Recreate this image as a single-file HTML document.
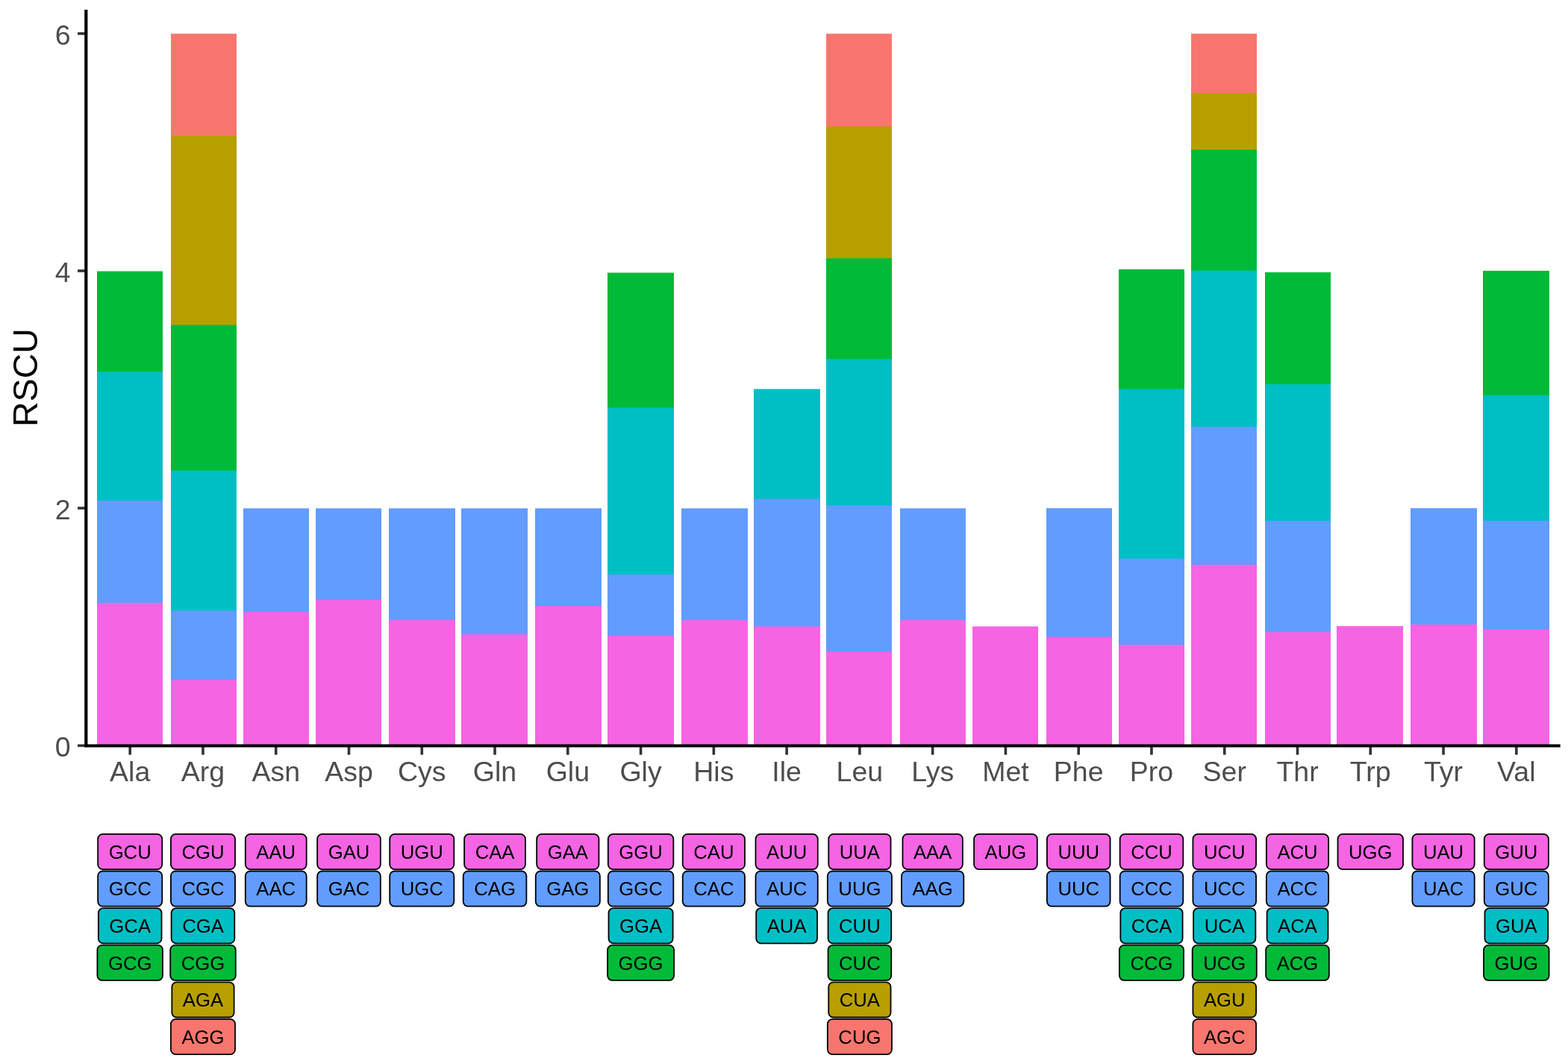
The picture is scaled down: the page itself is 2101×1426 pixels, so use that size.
<!DOCTYPE html>
<html lang="en">
<head>
<meta charset="utf-8">
<title>RSCU</title>
<style>
html,body{margin:0;padding:0;background:#fff;}
body{width:2101px;height:1426px;overflow:hidden;}
svg{display:block;}
text{font-family:"Liberation Sans",Arial,Helvetica,sans-serif;}
.ax{font-size:37.5px;fill:#4D4D4D;}
.ttl{font-size:46.5px;fill:#000;}
.lb{font-size:25.7px;fill:#000;text-anchor:middle;}
.bx{stroke:#000;stroke-width:1.8;}
</style>
</head>
<body>
<svg width="2101" height="1426" viewBox="0 0 2101 1426">
<rect x="0" y="0" width="2101" height="1426" fill="#ffffff"/>
<g>
<rect x="130" y="363.5" width="88" height="635.8" fill="#00BA38"/>
<rect x="130" y="498.1" width="88" height="501.2" fill="#00BFC4"/>
<rect x="130" y="671" width="88" height="328.3" fill="#619CFF"/>
<rect x="130" y="807.9" width="88" height="191.4" fill="#F564E3"/>
<rect x="229" y="45.2" width="88" height="954.1" fill="#F8766D"/>
<rect x="229" y="182" width="88" height="817.3" fill="#B79F00"/>
<rect x="229" y="435.6" width="88" height="563.7" fill="#00BA38"/>
<rect x="229" y="630.6" width="88" height="368.7" fill="#00BFC4"/>
<rect x="229" y="818.2" width="88" height="181.1" fill="#619CFF"/>
<rect x="229" y="911.2" width="88" height="88.1" fill="#F564E3"/>
<rect x="326" y="681.3" width="88" height="318" fill="#619CFF"/>
<rect x="326" y="820.2" width="88" height="179.1" fill="#F564E3"/>
<rect x="423" y="681.3" width="88" height="318" fill="#619CFF"/>
<rect x="423" y="803.9" width="88" height="195.4" fill="#F564E3"/>
<rect x="521" y="681.3" width="89" height="318" fill="#619CFF"/>
<rect x="521" y="831.2" width="89" height="168.1" fill="#F564E3"/>
<rect x="618" y="681.3" width="89" height="318" fill="#619CFF"/>
<rect x="618" y="850.2" width="89" height="149.1" fill="#F564E3"/>
<rect x="717" y="681.3" width="89" height="318" fill="#619CFF"/>
<rect x="717" y="812.2" width="89" height="187.1" fill="#F564E3"/>
<rect x="814" y="365.5" width="89" height="633.8" fill="#00BA38"/>
<rect x="814" y="546.4" width="89" height="452.9" fill="#00BFC4"/>
<rect x="814" y="769.9" width="89" height="229.4" fill="#619CFF"/>
<rect x="814" y="852.2" width="89" height="147.1" fill="#F564E3"/>
<rect x="913" y="681.3" width="89" height="318" fill="#619CFF"/>
<rect x="913" y="831.2" width="89" height="168.1" fill="#F564E3"/>
<rect x="1010" y="521.4" width="89" height="477.9" fill="#00BFC4"/>
<rect x="1010" y="668.6" width="89" height="330.7" fill="#619CFF"/>
<rect x="1010" y="839.5" width="89" height="159.8" fill="#F564E3"/>
<rect x="1107" y="45.2" width="88" height="954.1" fill="#F8766D"/>
<rect x="1107" y="169.6" width="88" height="829.7" fill="#B79F00"/>
<rect x="1107" y="346.2" width="88" height="653.1" fill="#00BA38"/>
<rect x="1107" y="481.1" width="88" height="518.2" fill="#00BFC4"/>
<rect x="1107" y="677.3" width="88" height="322" fill="#619CFF"/>
<rect x="1107" y="873.2" width="88" height="126.1" fill="#F564E3"/>
<rect x="1206" y="681.3" width="88" height="318" fill="#619CFF"/>
<rect x="1206" y="831.2" width="88" height="168.1" fill="#F564E3"/>
<rect x="1303" y="839.5" width="88" height="159.8" fill="#F564E3"/>
<rect x="1402" y="681.1" width="88" height="318.2" fill="#619CFF"/>
<rect x="1402" y="853.6" width="88" height="145.7" fill="#F564E3"/>
<rect x="1499" y="360.9" width="88" height="638.4" fill="#00BA38"/>
<rect x="1499" y="521.4" width="88" height="477.9" fill="#00BFC4"/>
<rect x="1499" y="748.6" width="88" height="250.7" fill="#619CFF"/>
<rect x="1499" y="864.2" width="88" height="135.1" fill="#F564E3"/>
<rect x="1596" y="45.2" width="88" height="954.1" fill="#F8766D"/>
<rect x="1596" y="125" width="88" height="874.3" fill="#B79F00"/>
<rect x="1596" y="200.6" width="88" height="798.7" fill="#00BA38"/>
<rect x="1596" y="362.6" width="88" height="636.7" fill="#00BFC4"/>
<rect x="1596" y="572" width="88" height="427.3" fill="#619CFF"/>
<rect x="1596" y="756.9" width="88" height="242.4" fill="#F564E3"/>
<rect x="1695" y="364.9" width="88" height="634.4" fill="#00BA38"/>
<rect x="1695" y="515" width="88" height="484.3" fill="#00BFC4"/>
<rect x="1695" y="697.9" width="88" height="301.4" fill="#619CFF"/>
<rect x="1695" y="847.2" width="88" height="152.1" fill="#F564E3"/>
<rect x="1791" y="839.1" width="89" height="160.2" fill="#F564E3"/>
<rect x="1890" y="681.1" width="89" height="318.2" fill="#619CFF"/>
<rect x="1890" y="836.9" width="89" height="162.4" fill="#F564E3"/>
<rect x="1987" y="362.9" width="89" height="636.4" fill="#00BA38"/>
<rect x="1987" y="529.7" width="89" height="469.6" fill="#00BFC4"/>
<rect x="1987" y="697.9" width="89" height="301.4" fill="#619CFF"/>
<rect x="1987" y="843.2" width="89" height="156.1" fill="#F564E3"/>
</g>
<g stroke="#333333" stroke-width="3.6" fill="none">
<line x1="104" y1="45" x2="114" y2="45"/>
<line x1="104" y1="363" x2="114" y2="363"/>
<line x1="104" y1="681" x2="114" y2="681"/>
<line x1="104" y1="999.3" x2="114" y2="999.3"/>
<line x1="174.2" y1="1000" x2="174.2" y2="1011.6"/>
<line x1="271.97" y1="1000" x2="271.97" y2="1011.6"/>
<line x1="369.74" y1="1000" x2="369.74" y2="1011.6"/>
<line x1="467.51" y1="1000" x2="467.51" y2="1011.6"/>
<line x1="565.28" y1="1000" x2="565.28" y2="1011.6"/>
<line x1="663.05" y1="1000" x2="663.05" y2="1011.6"/>
<line x1="760.82" y1="1000" x2="760.82" y2="1011.6"/>
<line x1="858.59" y1="1000" x2="858.59" y2="1011.6"/>
<line x1="956.36" y1="1000" x2="956.36" y2="1011.6"/>
<line x1="1054.13" y1="1000" x2="1054.13" y2="1011.6"/>
<line x1="1151.9" y1="1000" x2="1151.9" y2="1011.6"/>
<line x1="1249.67" y1="1000" x2="1249.67" y2="1011.6"/>
<line x1="1347.44" y1="1000" x2="1347.44" y2="1011.6"/>
<line x1="1445.21" y1="1000" x2="1445.21" y2="1011.6"/>
<line x1="1542.98" y1="1000" x2="1542.98" y2="1011.6"/>
<line x1="1640.75" y1="1000" x2="1640.75" y2="1011.6"/>
<line x1="1738.52" y1="1000" x2="1738.52" y2="1011.6"/>
<line x1="1836.29" y1="1000" x2="1836.29" y2="1011.6"/>
<line x1="1934.06" y1="1000" x2="1934.06" y2="1011.6"/>
<line x1="2031.83" y1="1000" x2="2031.83" y2="1011.6"/>
</g>
<line x1="115.3" y1="13" x2="115.3" y2="1001.3" stroke="#000" stroke-width="4.2"/>
<line x1="113.2" y1="999.4" x2="2090.7" y2="999.4" stroke="#000" stroke-width="4"/>
<text class="ax" x="94.5" y="59.5" text-anchor="end">6</text>
<text class="ax" x="94.5" y="377.5" text-anchor="end">4</text>
<text class="ax" x="94.5" y="695.5" text-anchor="end">2</text>
<text class="ax" x="94.5" y="1013.8" text-anchor="end">0</text>
<text class="ax" x="174.2" y="1047" text-anchor="middle">Ala</text>
<text class="ax" x="271.97" y="1047" text-anchor="middle">Arg</text>
<text class="ax" x="369.74" y="1047" text-anchor="middle">Asn</text>
<text class="ax" x="467.51" y="1047" text-anchor="middle">Asp</text>
<text class="ax" x="565.28" y="1047" text-anchor="middle">Cys</text>
<text class="ax" x="663.05" y="1047" text-anchor="middle">Gln</text>
<text class="ax" x="760.82" y="1047" text-anchor="middle">Glu</text>
<text class="ax" x="858.59" y="1047" text-anchor="middle">Gly</text>
<text class="ax" x="956.36" y="1047" text-anchor="middle">His</text>
<text class="ax" x="1054.13" y="1047" text-anchor="middle">Ile</text>
<text class="ax" x="1151.9" y="1047" text-anchor="middle">Leu</text>
<text class="ax" x="1249.67" y="1047" text-anchor="middle">Lys</text>
<text class="ax" x="1347.44" y="1047" text-anchor="middle">Met</text>
<text class="ax" x="1445.21" y="1047" text-anchor="middle">Phe</text>
<text class="ax" x="1542.98" y="1047" text-anchor="middle">Pro</text>
<text class="ax" x="1640.75" y="1047" text-anchor="middle">Ser</text>
<text class="ax" x="1738.52" y="1047" text-anchor="middle">Thr</text>
<text class="ax" x="1836.29" y="1047" text-anchor="middle">Trp</text>
<text class="ax" x="1934.06" y="1047" text-anchor="middle">Tyr</text>
<text class="ax" x="2031.83" y="1047" text-anchor="middle">Val</text>
<text class="ttl" transform="translate(50,506) rotate(-90)" text-anchor="middle">RSCU</text>
<rect class="bx" x="131.15" y="1117.9" width="86.11" height="47.2" rx="6.5" ry="6.5" fill="#F564E3"/><text class="lb" x="174.2" y="1150.7">GCU</text>
<rect class="bx" x="131.15" y="1167.5" width="86.11" height="47.2" rx="6.5" ry="6.5" fill="#619CFF"/><text class="lb" x="174.2" y="1200.3">GCC</text>
<rect class="bx" x="131.85" y="1217.1" width="84.69" height="47.2" rx="6.5" ry="6.5" fill="#00BFC4"/><text class="lb" x="174.2" y="1249.9">GCA</text>
<rect class="bx" x="130.43" y="1266.7" width="87.54" height="47.2" rx="6.5" ry="6.5" fill="#00BA38"/><text class="lb" x="174.2" y="1299.5">GCG</text>
<rect class="bx" x="228.92" y="1117.9" width="86.11" height="47.2" rx="6.5" ry="6.5" fill="#F564E3"/><text class="lb" x="271.97" y="1150.7">CGU</text>
<rect class="bx" x="228.92" y="1167.5" width="86.11" height="47.2" rx="6.5" ry="6.5" fill="#619CFF"/><text class="lb" x="271.97" y="1200.3">CGC</text>
<rect class="bx" x="229.62" y="1217.1" width="84.69" height="47.2" rx="6.5" ry="6.5" fill="#00BFC4"/><text class="lb" x="271.97" y="1249.9">CGA</text>
<rect class="bx" x="228.2" y="1266.7" width="87.54" height="47.2" rx="6.5" ry="6.5" fill="#00BA38"/><text class="lb" x="271.97" y="1299.5">CGG</text>
<rect class="bx" x="230.33" y="1316.3" width="83.28" height="47.2" rx="6.5" ry="6.5" fill="#B79F00"/><text class="lb" x="271.97" y="1349.1">AGA</text>
<rect class="bx" x="228.9" y="1365.9" width="86.13" height="47.2" rx="6.5" ry="6.5" fill="#F8766D"/><text class="lb" x="271.97" y="1398.7">AGG</text>
<rect class="bx" x="328.82" y="1117.9" width="81.84" height="47.2" rx="6.5" ry="6.5" fill="#F564E3"/><text class="lb" x="369.74" y="1150.7">AAU</text>
<rect class="bx" x="328.82" y="1167.5" width="81.84" height="47.2" rx="6.5" ry="6.5" fill="#619CFF"/><text class="lb" x="369.74" y="1200.3">AAC</text>
<rect class="bx" x="425.16" y="1117.9" width="84.69" height="47.2" rx="6.5" ry="6.5" fill="#F564E3"/><text class="lb" x="467.51" y="1150.7">GAU</text>
<rect class="bx" x="425.16" y="1167.5" width="84.69" height="47.2" rx="6.5" ry="6.5" fill="#619CFF"/><text class="lb" x="467.51" y="1200.3">GAC</text>
<rect class="bx" x="522.23" y="1117.9" width="86.11" height="47.2" rx="6.5" ry="6.5" fill="#F564E3"/><text class="lb" x="565.28" y="1150.7">UGU</text>
<rect class="bx" x="522.23" y="1167.5" width="86.11" height="47.2" rx="6.5" ry="6.5" fill="#619CFF"/><text class="lb" x="565.28" y="1200.3">UGC</text>
<rect class="bx" x="622.13" y="1117.9" width="81.84" height="47.2" rx="6.5" ry="6.5" fill="#F564E3"/><text class="lb" x="663.05" y="1150.7">CAA</text>
<rect class="bx" x="620.7" y="1167.5" width="84.69" height="47.2" rx="6.5" ry="6.5" fill="#619CFF"/><text class="lb" x="663.05" y="1200.3">CAG</text>
<rect class="bx" x="719.18" y="1117.9" width="83.28" height="47.2" rx="6.5" ry="6.5" fill="#F564E3"/><text class="lb" x="760.82" y="1150.7">GAA</text>
<rect class="bx" x="717.75" y="1167.5" width="86.13" height="47.2" rx="6.5" ry="6.5" fill="#619CFF"/><text class="lb" x="760.82" y="1200.3">GAG</text>
<rect class="bx" x="814.82" y="1117.9" width="87.54" height="47.2" rx="6.5" ry="6.5" fill="#F564E3"/><text class="lb" x="858.59" y="1150.7">GGU</text>
<rect class="bx" x="814.82" y="1167.5" width="87.54" height="47.2" rx="6.5" ry="6.5" fill="#619CFF"/><text class="lb" x="858.59" y="1200.3">GGC</text>
<rect class="bx" x="815.52" y="1217.1" width="86.13" height="47.2" rx="6.5" ry="6.5" fill="#00BFC4"/><text class="lb" x="858.59" y="1249.9">GGA</text>
<rect class="bx" x="814.1" y="1266.7" width="88.98" height="47.2" rx="6.5" ry="6.5" fill="#00BA38"/><text class="lb" x="858.59" y="1299.5">GGG</text>
<rect class="bx" x="914.73" y="1117.9" width="83.25" height="47.2" rx="6.5" ry="6.5" fill="#F564E3"/><text class="lb" x="956.36" y="1150.7">CAU</text>
<rect class="bx" x="914.73" y="1167.5" width="83.25" height="47.2" rx="6.5" ry="6.5" fill="#619CFF"/><text class="lb" x="956.36" y="1200.3">CAC</text>
<rect class="bx" x="1012.5" y="1117.9" width="83.25" height="47.2" rx="6.5" ry="6.5" fill="#F564E3"/><text class="lb" x="1054.13" y="1150.7">AUU</text>
<rect class="bx" x="1012.5" y="1167.5" width="83.25" height="47.2" rx="6.5" ry="6.5" fill="#619CFF"/><text class="lb" x="1054.13" y="1200.3">AUC</text>
<rect class="bx" x="1013.21" y="1217.1" width="81.84" height="47.2" rx="6.5" ry="6.5" fill="#00BFC4"/><text class="lb" x="1054.13" y="1249.9">AUA</text>
<rect class="bx" x="1110.27" y="1117.9" width="83.25" height="47.2" rx="6.5" ry="6.5" fill="#F564E3"/><text class="lb" x="1151.9" y="1150.7">UUA</text>
<rect class="bx" x="1108.85" y="1167.5" width="86.11" height="47.2" rx="6.5" ry="6.5" fill="#619CFF"/><text class="lb" x="1151.9" y="1200.3">UUG</text>
<rect class="bx" x="1109.57" y="1217.1" width="84.67" height="47.2" rx="6.5" ry="6.5" fill="#00BFC4"/><text class="lb" x="1151.9" y="1249.9">CUU</text>
<rect class="bx" x="1109.57" y="1266.7" width="84.67" height="47.2" rx="6.5" ry="6.5" fill="#00BA38"/><text class="lb" x="1151.9" y="1299.5">CUC</text>
<rect class="bx" x="1110.27" y="1316.3" width="83.25" height="47.2" rx="6.5" ry="6.5" fill="#B79F00"/><text class="lb" x="1151.9" y="1349.1">CUA</text>
<rect class="bx" x="1108.85" y="1365.9" width="86.11" height="47.2" rx="6.5" ry="6.5" fill="#F8766D"/><text class="lb" x="1151.9" y="1398.7">CUG</text>
<rect class="bx" x="1209.46" y="1117.9" width="80.43" height="47.2" rx="6.5" ry="6.5" fill="#F564E3"/><text class="lb" x="1249.67" y="1150.7">AAA</text>
<rect class="bx" x="1208.03" y="1167.5" width="83.28" height="47.2" rx="6.5" ry="6.5" fill="#619CFF"/><text class="lb" x="1249.67" y="1200.3">AAG</text>
<rect class="bx" x="1305.09" y="1117.9" width="84.69" height="47.2" rx="6.5" ry="6.5" fill="#F564E3"/><text class="lb" x="1347.44" y="1150.7">AUG</text>
<rect class="bx" x="1402.88" y="1117.9" width="84.67" height="47.2" rx="6.5" ry="6.5" fill="#F564E3"/><text class="lb" x="1445.21" y="1150.7">UUU</text>
<rect class="bx" x="1402.88" y="1167.5" width="84.67" height="47.2" rx="6.5" ry="6.5" fill="#619CFF"/><text class="lb" x="1445.21" y="1200.3">UUC</text>
<rect class="bx" x="1500.65" y="1117.9" width="84.67" height="47.2" rx="6.5" ry="6.5" fill="#F564E3"/><text class="lb" x="1542.98" y="1150.7">CCU</text>
<rect class="bx" x="1500.65" y="1167.5" width="84.67" height="47.2" rx="6.5" ry="6.5" fill="#619CFF"/><text class="lb" x="1542.98" y="1200.3">CCC</text>
<rect class="bx" x="1501.35" y="1217.1" width="83.25" height="47.2" rx="6.5" ry="6.5" fill="#00BFC4"/><text class="lb" x="1542.98" y="1249.9">CCA</text>
<rect class="bx" x="1499.93" y="1266.7" width="86.11" height="47.2" rx="6.5" ry="6.5" fill="#00BA38"/><text class="lb" x="1542.98" y="1299.5">CCG</text>
<rect class="bx" x="1598.42" y="1117.9" width="84.67" height="47.2" rx="6.5" ry="6.5" fill="#F564E3"/><text class="lb" x="1640.75" y="1150.7">UCU</text>
<rect class="bx" x="1598.42" y="1167.5" width="84.67" height="47.2" rx="6.5" ry="6.5" fill="#619CFF"/><text class="lb" x="1640.75" y="1200.3">UCC</text>
<rect class="bx" x="1599.12" y="1217.1" width="83.25" height="47.2" rx="6.5" ry="6.5" fill="#00BFC4"/><text class="lb" x="1640.75" y="1249.9">UCA</text>
<rect class="bx" x="1597.7" y="1266.7" width="86.11" height="47.2" rx="6.5" ry="6.5" fill="#00BA38"/><text class="lb" x="1640.75" y="1299.5">UCG</text>
<rect class="bx" x="1598.4" y="1316.3" width="84.69" height="47.2" rx="6.5" ry="6.5" fill="#B79F00"/><text class="lb" x="1640.75" y="1349.1">AGU</text>
<rect class="bx" x="1598.4" y="1365.9" width="84.69" height="47.2" rx="6.5" ry="6.5" fill="#F8766D"/><text class="lb" x="1640.75" y="1398.7">AGC</text>
<rect class="bx" x="1696.89" y="1117.9" width="83.25" height="47.2" rx="6.5" ry="6.5" fill="#F564E3"/><text class="lb" x="1738.52" y="1150.7">ACU</text>
<rect class="bx" x="1696.89" y="1167.5" width="83.25" height="47.2" rx="6.5" ry="6.5" fill="#619CFF"/><text class="lb" x="1738.52" y="1200.3">ACC</text>
<rect class="bx" x="1697.6" y="1217.1" width="81.84" height="47.2" rx="6.5" ry="6.5" fill="#00BFC4"/><text class="lb" x="1738.52" y="1249.9">ACA</text>
<rect class="bx" x="1696.17" y="1266.7" width="84.69" height="47.2" rx="6.5" ry="6.5" fill="#00BA38"/><text class="lb" x="1738.52" y="1299.5">ACG</text>
<rect class="bx" x="1792.52" y="1117.9" width="87.54" height="47.2" rx="6.5" ry="6.5" fill="#F564E3"/><text class="lb" x="1836.29" y="1150.7">UGG</text>
<rect class="bx" x="1892.43" y="1117.9" width="83.25" height="47.2" rx="6.5" ry="6.5" fill="#F564E3"/><text class="lb" x="1934.06" y="1150.7">UAU</text>
<rect class="bx" x="1892.43" y="1167.5" width="83.25" height="47.2" rx="6.5" ry="6.5" fill="#619CFF"/><text class="lb" x="1934.06" y="1200.3">UAC</text>
<rect class="bx" x="1988.78" y="1117.9" width="86.11" height="47.2" rx="6.5" ry="6.5" fill="#F564E3"/><text class="lb" x="2031.83" y="1150.7">GUU</text>
<rect class="bx" x="1988.78" y="1167.5" width="86.11" height="47.2" rx="6.5" ry="6.5" fill="#619CFF"/><text class="lb" x="2031.83" y="1200.3">GUC</text>
<rect class="bx" x="1989.48" y="1217.1" width="84.69" height="47.2" rx="6.5" ry="6.5" fill="#00BFC4"/><text class="lb" x="2031.83" y="1249.9">GUA</text>
<rect class="bx" x="1988.06" y="1266.7" width="87.54" height="47.2" rx="6.5" ry="6.5" fill="#00BA38"/><text class="lb" x="2031.83" y="1299.5">GUG</text>
</svg>
</body>
</html>
